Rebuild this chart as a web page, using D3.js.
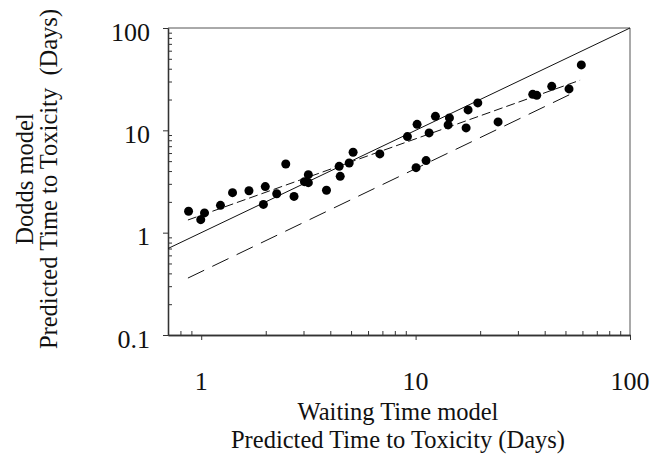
<!DOCTYPE html>
<html>
<head>
<meta charset="utf-8">
<script src="https://cdn.jsdelivr.net/npm/d3@7"></script>
<style>
  html, body { margin: 0; padding: 0; background: #fff; }
  svg { display: block; }
</style>
</head>
<body>
<svg id="chart" width="666" height="455"></svg>
<script>
// ---- data ----
const waitingTime = [0.873, 0.995, 1.036, 1.23, 1.40, 1.67, 1.99, 1.95, 2.25, 2.48,
  2.71, 3.03, 3.16, 3.16, 3.84, 4.40, 4.45, 4.90, 5.11, 6.81,
  9.16, 10.16, 10.05, 11.19, 11.56, 12.37, 14.18, 14.38, 17.20, 17.57,
  19.50, 24.25, 35.19, 36.73, 43.15, 51.95, 59.29];
const doddsTime = [1.62, 1.34, 1.56, 1.85, 2.46, 2.57, 2.82, 1.89, 2.40, 4.69,
  2.26, 3.15, 3.69, 3.08, 2.60, 4.45, 3.55, 4.80, 6.10, 5.88,
  8.68, 11.45, 4.32, 5.06, 9.43, 13.71, 11.29, 13.22, 10.56, 15.83,
  18.53, 12.08, 22.49, 21.99, 26.92, 25.39, 43.59];
// identity line
const identityX = [0.7, 100];
const identityY = [0.7, 100];
// regression fit (short dash)
const fitX = [0.867, 58.5];
const fitY = [1.33, 30.9];
// lower bound (long dash)
const lowerX = [0.867, 56.4];
const lowerY = [0.36, 24.1];

const xMajor = [1, 10, 100];
const xMajorLabels = ["1", "10", "100"];
const yMajor = [0.1, 1, 10, 100];
const yMajorLabels = ["0.1", "1", "10", "100"];
const xTitle = ["Waiting Time model", "Predicted Time to Toxicity (Days)"];
const yTitle = ["Dodds model", "Predicted Time to Toxicity  (Days)"];

const FONT = "'Liberation Serif', 'Times New Roman', Times, serif";

// ---- layout ----
const svg = d3.select("#chart");
const L = 168, R = 630, T = 28, B = 335;
const x = d3.scaleLog().domain([0.7, 100]).range([L, R]);
const y = d3.scaleLog().domain([0.1, 100]).range([B, T]);

const xMinor = x.ticks().filter(v => !xMajor.includes(v));
const yMinor = y.ticks().filter(v => !yMajor.includes(v));

// frame (top & right)
svg.append("path")
  .attr("d", `M${L},${T}H${R}V${B}`)
  .attr("fill", "none").attr("stroke", "#555").attr("stroke-width", 1);

// axes
const gx = svg.append("g").attr("transform", `translate(0,${B})`);
gx.call(d3.axisBottom(x).tickValues(xMinor).tickSizeInner(-4).tickSizeOuter(0).tickFormat(""));
gx.call(g => g.append("g").call(d3.axisBottom(x).tickValues(xMajor).tickSizeInner(5).tickSizeOuter(0).tickFormat("")));
gx.selectAll("path.domain").attr("stroke", "#333").attr("stroke-width", 1.3);
gx.selectAll(".tick line").attr("stroke", "#333");

const gy = svg.append("g").attr("transform", `translate(${L},0)`);
gy.call(d3.axisLeft(y).tickValues(yMinor).tickSizeInner(-4).tickSizeOuter(0).tickFormat(""));
gy.call(g => g.append("g").call(d3.axisLeft(y).tickValues(yMajor).tickSizeInner(5).tickSizeOuter(0).tickFormat("")));
gy.selectAll("path.domain").attr("stroke", "#333").attr("stroke-width", 1.3);
gy.selectAll(".tick line").attr("stroke", "#333");

// tick labels
svg.append("g").selectAll("text").data(xMajor).join("text")
  .attr("x", d => x(d)).attr("y", 381)
  .attr("text-anchor", "middle").attr("dominant-baseline", "central")
  .style("font-family", FONT).style("font-size", "26px").attr("fill", "#111")
  .text((d, i) => xMajorLabels[i]);
svg.append("g").selectAll("text").data(yMajor).join("text")
  .attr("x", 150).attr("y", d => y(d) + 4)
  .attr("text-anchor", "end").attr("dominant-baseline", "central")
  .style("font-family", FONT).style("font-size", "26px").attr("fill", "#111")
  .text((d, i) => yMajorLabels[i]);

// axis titles
svg.append("g").selectAll("text").data(xTitle).join("text")
  .attr("x", (L + R) / 2 - 1).attr("y", (d, i) => 411 + i * 28)
  .attr("text-anchor", "middle").attr("dominant-baseline", "central")
  .style("font-family", FONT).style("font-size", "24.5px").attr("fill", "#111")
  .text(d => d);
svg.append("g").selectAll("text").data(yTitle).join("text")
  .attr("transform", (d, i) => `translate(${24 + i * 24},179) rotate(-90)`)
  .attr("text-anchor", "middle").attr("dominant-baseline", "central")
  .style("font-family", FONT).style("font-size", "24.5px").attr("fill", "#111")
  .style("white-space", "pre")
  .text(d => d);

// lines
const line = d3.line().x(d => x(d[0])).y(d => y(d[1]));
svg.append("path").datum(d3.zip(identityX, identityY))
  .attr("d", line).attr("fill", "none").attr("stroke", "#111").attr("stroke-width", 1);
svg.append("path").datum(d3.zip(fitX, fitY))
  .attr("d", line).attr("fill", "none").attr("stroke", "#111").attr("stroke-width", 1)
  .attr("stroke-dasharray", "9,4");
svg.append("path").datum(d3.zip(lowerX, lowerY))
  .attr("d", line).attr("fill", "none").attr("stroke", "#111").attr("stroke-width", 1)
  .attr("stroke-dasharray", "18,9");

// points
svg.append("g").selectAll("circle").data(d3.zip(waitingTime, doddsTime)).join("circle")
  .attr("cx", d => x(d[0])).attr("cy", d => y(d[1])).attr("r", 4.5)
  .attr("fill", "#000");
</script>
</body>
</html>
